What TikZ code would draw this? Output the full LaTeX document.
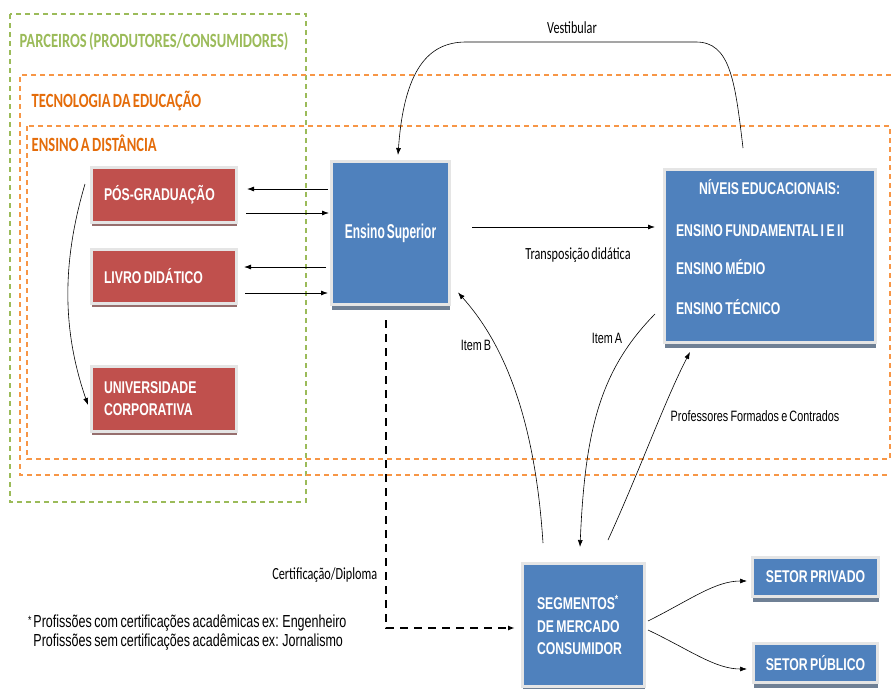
\documentclass[tikz,border=0pt]{standalone}
\usepackage{fontspec}
\newfontfamily\boxfont[FakeStretch=0.72,WordSpace=0.72]{Liberation Sans}
\newfontfamily\supfont[FakeStretch=0.6,WordSpace=0.6]{Liberation Sans}
\newfontfamily\labfont[FakeStretch=0.72,WordSpace=0.72]{Carlito}
\usetikzlibrary{arrows.meta,shadows}

\definecolor{redfill}{HTML}{C0504D}
\definecolor{bluefill}{HTML}{4F81BD}
\definecolor{greenline}{HTML}{9BBB59}
\definecolor{orangeline}{HTML}{F79646}
\definecolor{orangetext}{HTML}{E46C0A}

\tikzset{
  block/.style={rectangle, draw=black!10, line width=3pt, text=white,
    font=\boxfont\bfseries\fontsize{17}{22}\selectfont},
  redblock/.style={block, fill=redfill, align=flush left, inner xsep=12.5pt, text width=120pt,
    drop shadow={shadow xshift=0pt, shadow yshift=-3.5pt, fill=redfill!35!gray, opacity=1}},
  blueblock/.style={block, fill=bluefill,
    drop shadow={shadow xshift=0pt, shadow yshift=-5pt, fill=bluefill!35!gray, opacity=1}},
  headtxt/.style={font=\labfont\bfseries\fontsize{20.2}{24}\selectfont},
  labtxt/.style={font=\labfont\fontsize{17}{20}\selectfont},
  itemtxt/.style={font=\boxfont\fontsize{15}{18}\selectfont},
}

\begin{document}
\begin{tikzpicture}[x=1pt, y=-1pt, >={Latex[length=7pt,width=5pt]}, line width=0.8pt]
   \useasboundingbox (0,0) rectangle (891,688);

   % areas
   \draw[greenline, line width=1.2pt, dash pattern=on 5pt off 4pt] (10,14) rectangle (306,502);
   \draw[orangeline, line width=1.2pt, dash pattern=on 5pt off 4pt] (891,75) -- (20,75) -- (20,475) -- (891,475);
   \draw[orangeline, line width=1.2pt, dash pattern=on 5pt off 4pt] (27,126) rectangle (890,459);
   \node[headtxt, text=greenline, anchor=west] (parc) at (16,42) {PARCEIROS (PRODUTORES/CONSUMIDORES)};
   \node[headtxt, text=orangetext, anchor=west] (tec) at (28,101) {TECNOLOGIA DA EDUCAÇÃO};
   \node[headtxt, text=orangetext, anchor=west] (ead) at (28,143) {ENSINO A DISTÂNCIA};

   % blocks
   \node[redblock, minimum width=145pt, minimum height=55pt] (pos) at (164,195) {PÓS-GRADUAÇÃO};
   \node[redblock, minimum width=145pt, minimum height=54pt] (livro) at (164,276.5) {LIVRO DIDÁTICO};
   \node[redblock, minimum width=145pt, minimum height=65pt] (univ) at (164,399) {UNIVERSIDADE\\CORPORATIVA};
   \node[blueblock, minimum width=118pt, minimum height=143pt,
     font=\supfont\bfseries\fontsize{20}{24}\selectfont] (sup) at (390.5,233) {Ensino Superior};
   \node[blueblock, minimum width=211pt, minimum height=173pt, align=flush left,
     inner xsep=11.5pt, text width=188pt] (niveis) at (770,256)
     {\hspace*{23pt}NÍVEIS EDUCACIONAIS:\\[20pt]
      ENSINO FUNDAMENTAL I E II\\[16pt]
      ENSINO MÉDIO\\[18pt]
      ENSINO TÉCNICO\\[-4pt]\mbox{}};
   \node[blueblock, minimum width=122pt, minimum height=123pt, align=flush left,
     inner xsep=14.5pt, text width=93pt, font=\boxfont\bfseries\fontsize{17}{22.5}\selectfont]
     (segm) at (583.5,625) {SEGMENTOS\textsuperscript{*}\\DE MERCADO\\CONSUMIDOR};
   \node[blueblock, minimum width=126pt, minimum height=39pt] (priv) at (815.5,577) {SETOR PRIVADO};
   \node[blueblock, minimum width=124pt, minimum height=39pt] (publ) at (815.5,663) {SETOR PÚBLICO};

   % connectors
   \draw[->, shorten <=2pt, shorten >=9pt] (sup.west |- 0,189) -- (pos.east |- 0,189);
   \draw[->, shorten <=8pt, shorten >=1pt] (pos.east |- 0,213) -- (sup.west |- 0,213);
   \draw[->, shorten <=4pt, shorten >=6pt] (sup.west |- 0,267) -- (livro.east |- 0,267);
   \draw[->, shorten <=7pt, shorten >=2pt] (livro.east |- 0,293) -- (sup.west |- 0,293);
   \draw[->, line width=0.6pt] ([xshift=-5pt,yshift=11pt]pos.west) .. controls (62,262) and (62,330) .. ([xshift=-2pt,yshift=-6pt]univ.west);
   \draw[->, shorten <=21pt, shorten >=8pt] (sup.east |- 0,227) -- (niveis.west |- 0,227);
   \node[labtxt] (trans) at (578,255) {Transposição didática};

   \draw[->, line width=0.6pt] ([xshift=-27pt,yshift=20pt]niveis.north) .. controls (735,80) and (730,42) .. (696,42)
     -- (466,42) .. controls (428,42) and (404,70) .. ([xshift=7.5pt,yshift=5pt]sup.north);
   \node[labtxt] (vest) at (572,28) {Vestibular};

   \draw[->, line width=0.6pt] ([xshift=-40.5pt,yshift=19pt]segm.north) .. controls (535,420) and (505,345) .. ([xshift=7pt,yshift=13.5pt]sup.south east);
   \node[itemtxt] (itb) at (476,345) {Item B};
   \draw[->, line width=0.6pt] ([xshift=-8pt,yshift=-58pt]niveis.west) .. controls (600,370) and (585,430) .. ([xshift=-3.5pt,yshift=15pt]segm.north);
   \node[itemtxt] (ita) at (607,338) {Item A};
   \draw[->, line width=0.6pt] ([xshift=24.5pt,yshift=22pt]segm.north) .. controls (640,470) and (665,400) .. ([xshift=-80pt,yshift=-8pt]niveis.south);
   \node[itemtxt, anchor=west] (prof) at (667,416) {Professores Formados e Contrados};

   \draw[->, line width=2.2pt, dash pattern=on 8pt off 6pt, shorten >=6pt] ([xshift=-4.5pt,yshift=-14pt]sup.south) |- ([yshift=-3pt]segm.west);
   \node[labtxt, anchor=east] (cert) at (381,575) {Certificação/Diploma};

   \draw[->, line width=0.6pt, shorten >=4pt] ([xshift=2pt,yshift=4pt]segm.east) .. controls (690,600) and (715,581) .. ([yshift=-4pt]priv.west);
   \draw[->, line width=0.6pt, shorten >=5pt] ([xshift=2pt,yshift=-5pt]segm.east) .. controls (690,650) and (715,669) .. ([yshift=-6pt]publ.west);

   % note
   \node[font=\boxfont\fontsize{17.4}{19}\selectfont, anchor=base west, align=flush left, inner sep=0pt] (nota) at (33,646)
     {\llap{\raisebox{3pt}{\fontsize{12}{12}\selectfont *}\hspace{2pt}}Profissões com certificações acadêmicas ex: Engenheiro\\
      Profissões sem certificações acadêmicas ex: Jornalismo};
\end{tikzpicture}
\end{document}
